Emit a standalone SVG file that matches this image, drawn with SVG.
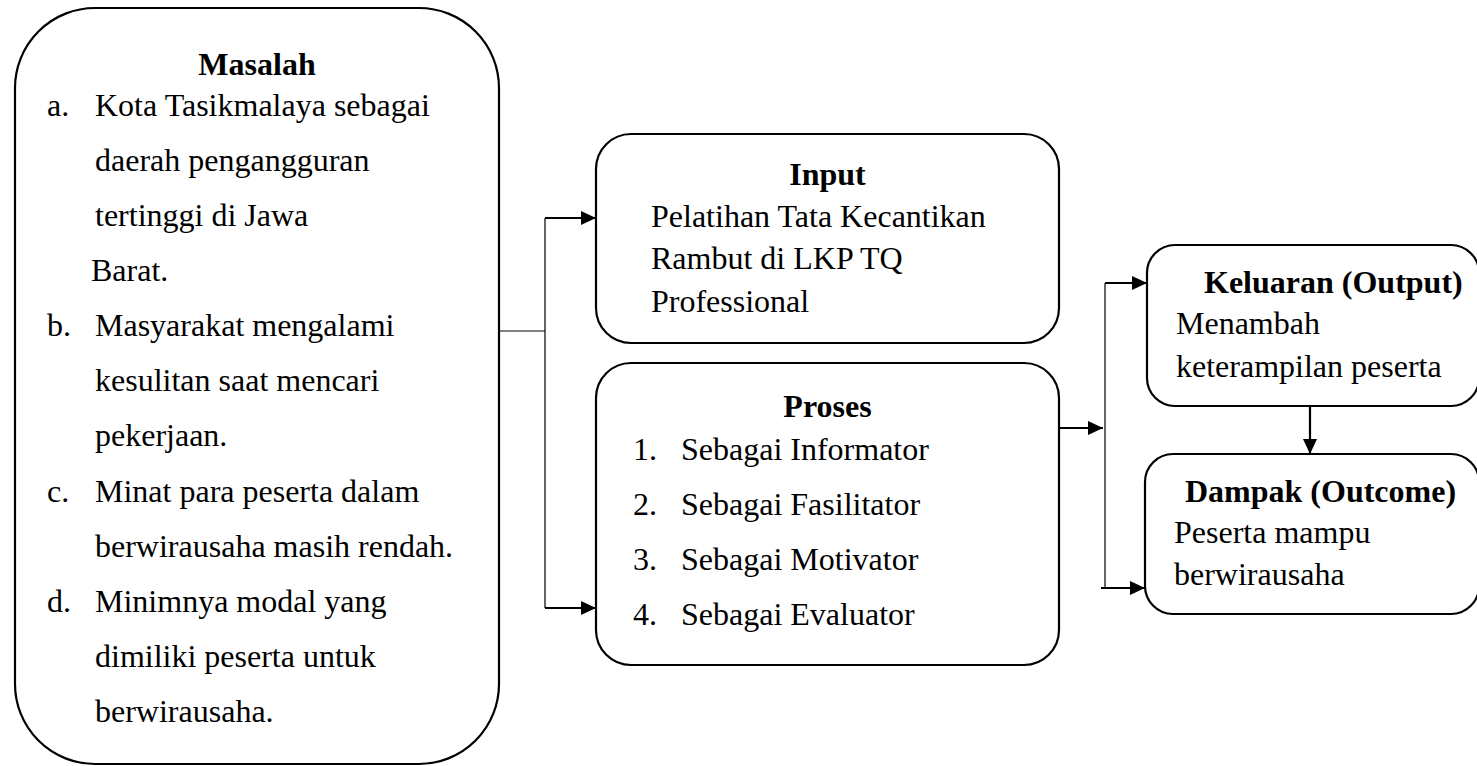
<svg xmlns="http://www.w3.org/2000/svg" width="1477" height="766" viewBox="0 0 1477 766">
  <style>
    .box { fill: #ffffff; stroke: #000000; stroke-width: 2.2; }
    .t { font-family: "Liberation Serif", "Times New Roman", serif; font-size: 32px; fill: #000000; }
    .b { font-weight: bold; }
    .c { text-anchor: middle; }
    .thin { fill: none; stroke: #000000; stroke-width: 1.2; }
    .arr { fill: none; stroke: #000000; stroke-width: 2.2; marker-end: url(#ah); }
  </style>
  <defs>
    <marker id="ah" viewBox="0 0 15 14" refX="15" refY="7" markerWidth="15" markerHeight="14" orient="auto" markerUnits="userSpaceOnUse">
      <path d="M0,0 L15,7 L0,14 Z" fill="#000000"/>
    </marker>
  </defs>
  <rect width="1477" height="766" fill="#ffffff"/>

  <g id="connectors">
    <path class="thin" d="M499,331 H545 M545,218 V608"/>
    <path class="arr" d="M545,218 H596"/>
    <path class="arr" d="M545,608 H596"/>
    <path class="arr" d="M1059,428 H1103"/>
    <path class="thin" d="M1105,283 V588"/>
    <path class="arr" d="M1105,283 H1147"/>
    <path class="arr" d="M1101,588 H1145"/>
    <path class="arr" d="M1310,406 V454"/>
  </g>

  <g id="masalah">
    <rect class="box" x="15" y="8" width="484" height="756" rx="80" ry="80"/>
    <text class="t b c" x="257" y="75">Masalah</text>
    <text class="t" x="47" y="116">a.</text>
    <text class="t" x="95" y="116">Kota Tasikmalaya sebagai</text>
    <text class="t" x="95" y="171">daerah pengangguran</text>
    <text class="t" x="95" y="226">tertinggi di Jawa</text>
    <text class="t" x="91" y="281">Barat.</text>
    <text class="t" x="47" y="336">b.</text>
    <text class="t" x="95" y="336">Masyarakat mengalami</text>
    <text class="t" x="95" y="391">kesulitan saat mencari</text>
    <text class="t" x="95" y="446">pekerjaan.</text>
    <text class="t" x="47" y="502">c.</text>
    <text class="t" x="95" y="502">Minat para peserta dalam</text>
    <text class="t" x="95" y="557">berwirausaha masih rendah.</text>
    <text class="t" x="47" y="612">d.</text>
    <text class="t" x="95" y="612">Minimnya modal yang</text>
    <text class="t" x="95" y="667">dimiliki peserta untuk</text>
    <text class="t" x="95" y="722">berwirausaha.</text>
  </g>

  <g id="input">
    <rect class="box" x="596" y="134" width="463" height="209" rx="35" ry="35"/>
    <text class="t b c" x="827.5" y="185">Input</text>
    <text class="t" x="651" y="227">Pelatihan Tata Kecantikan</text>
    <text class="t" x="651" y="269">Rambut di LKP TQ</text>
    <text class="t" x="651" y="312">Professional</text>
  </g>

  <g id="proses">
    <rect class="box" x="596" y="363" width="463" height="302" rx="35" ry="35"/>
    <text class="t b c" x="827.5" y="417">Proses</text>
    <text class="t" x="633" y="460">1.</text>
    <text class="t" x="681" y="460">Sebagai Informator</text>
    <text class="t" x="633" y="515">2.</text>
    <text class="t" x="681" y="515">Sebagai Fasilitator</text>
    <text class="t" x="633" y="570">3.</text>
    <text class="t" x="681" y="570">Sebagai Motivator</text>
    <text class="t" x="633" y="625">4.</text>
    <text class="t" x="681" y="625">Sebagai Evaluator</text>
  </g>

  <g id="keluaran">
    <rect class="box" x="1147" y="245" width="332" height="161" rx="28" ry="28"/>
    <text class="t b" x="1204" y="293">Keluaran (Output)</text>
    <text class="t" x="1176" y="334">Menambah</text>
    <text class="t" x="1176" y="377">keterampilan peserta</text>
  </g>

  <g id="dampak">
    <rect class="box" x="1145" y="454" width="334" height="160" rx="28" ry="28"/>
    <text class="t b" x="1185" y="502">Dampak (Outcome)</text>
    <text class="t" x="1174" y="543">Peserta mampu</text>
    <text class="t" x="1174" y="585">berwirausaha</text>
  </g>
</svg>
